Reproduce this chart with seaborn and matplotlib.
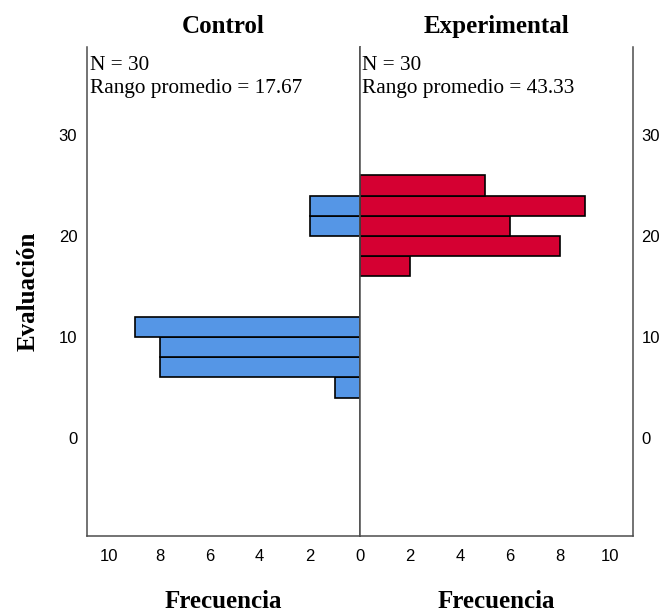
import numpy as np
import pandas as pd
import matplotlib
matplotlib.use("Agg")
import matplotlib.pyplot as plt
import seaborn as sns

# ── Data (bins of width 2 on "Evaluación") ───────────────────────────────────
bin_starts = [4, 6, 8, 10, 16, 18, 20, 22, 24]
control_freq = [1, 8, 8, 9, 0, 0, 2, 2, 0]
experimental_freq = [0, 0, 0, 0, 2, 8, 6, 9, 5]
group_names = ["Control", "Experimental"]
group_n = [30, 30]
mean_ranks = [17.67, 43.33]
y_ticks = [0, 10, 20, 30]
x_ticks = [0, 2, 4, 6, 8, 10]

BIN_W = 2
BLUE = "#5596E6"
RED = "#D50032"
SPINE = "#4d4d4d"

sns.set_style("white")
plt.rcParams["font.family"] = ["Liberation Serif", "DejaVu Serif"]
plt.rcParams["text.color"] = "black"
plt.rcParams["axes.labelcolor"] = "black"
plt.rcParams["xtick.color"] = "black"
plt.rcParams["ytick.color"] = "black"

fig = plt.figure(figsize=(6.62, 6.13), dpi=100)
ax_l = fig.add_axes([0.1314, 0.1256, 0.4118, 0.7977])
ax_r = fig.add_axes([0.5432, 0.1256, 0.4130, 0.7977])

for ax, freq, color, name, n, rank in zip(
    [ax_l, ax_r], [control_freq, experimental_freq], [BLUE, RED],
    group_names, group_n, mean_ranks,
):
    df = pd.DataFrame({"mid": np.array(bin_starts) + BIN_W / 2, "freq": freq})
    df = df[df["freq"] > 0]
    lo = df["mid"].min() - BIN_W / 2
    hi = df["mid"].max() + BIN_W / 2
    sns.histplot(
        data=df, y="mid", weights="freq", binwidth=BIN_W, binrange=(lo, hi),
        ax=ax, color=color, alpha=1, edgecolor="black", linewidth=1.2,
    )
    ax.set_ylim(-9.7, 38.7)
    ax.set_yticks(y_ticks)
    ax.set_yticklabels([str(t) for t in y_ticks], fontsize=12, family="Liberation Sans")
    ax.tick_params(axis="both", length=0)
    ax.tick_params(axis="x", pad=9)
    ax.spines["top"].set_visible(False)
    for s in ax.spines.values():
        s.set_color(SPINE)
        s.set_linewidth(1.1)
    ax.set_title(name, fontsize=18, fontweight="bold", pad=10)
    ax.set_xlabel("Frecuencia", fontsize=18, fontweight="bold", labelpad=19)
    ax.set_ylabel("")
    ax.text(0.01, 0.982, f"N = {n}\nRango promedio = {rank:.2f}",
            transform=ax.transAxes, ha="left", va="top", fontsize=15.3,
            linespacing=1.28)

# left panel: mirrored x axis (centre "0" drawn by the right panel)
ax_l.set_xlim(10.9, 0)
ax_l.set_xticks(x_ticks[1:])
ax_l.set_xticklabels([str(t) for t in x_ticks[1:]], fontsize=12, family="Liberation Sans")
ax_l.tick_params(axis="y", pad=7)
ax_l.spines["right"].set_visible(True)
ax_l.set_ylabel("Evaluación", fontsize=18, fontweight="bold", labelpad=14)

# right panel: y axis on the right
ax_r.set_xlim(0, 10.9)
ax_r.set_xticks(x_ticks)
ax_r.set_xticklabels([str(t) for t in x_ticks], fontsize=12, family="Liberation Sans")
ax_r.yaxis.tick_right()
ax_r.tick_params(axis="y", pad=6)
ax_r.spines["left"].set_visible(True)

fig.savefig("out.png", dpi=100)
